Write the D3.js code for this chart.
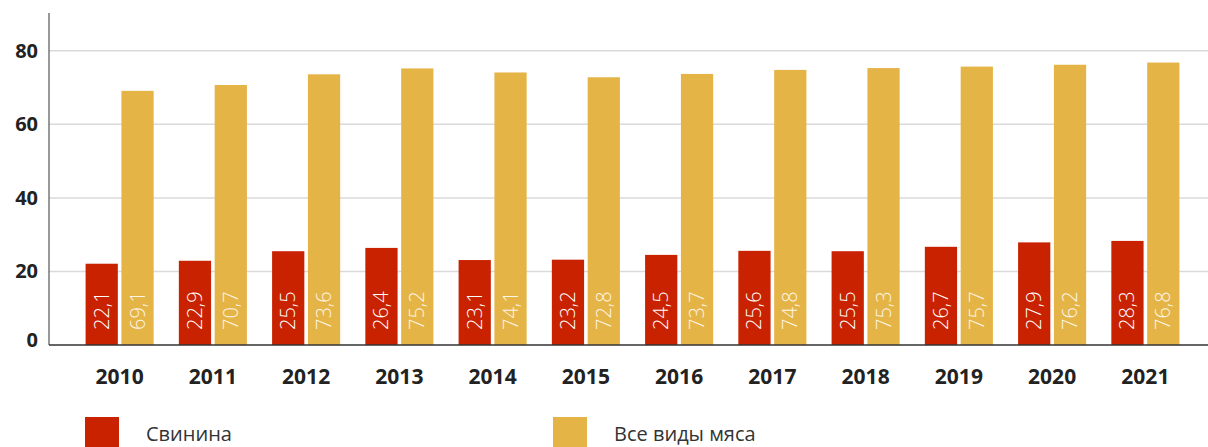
<!DOCTYPE html>
<html>
<head>
  <style>
    body { margin: 0; background: #fff; }
    svg { display: block; }
  </style>
</head>
<body>
  <div id="app">
    <svg id="chart" width="1208" height="447"></svg>
  </div>
  <script src="https://d3js.org/d3.v7.min.js"></script>
  <script>
    const years = ['2010', '2011', '2012', '2013', '2014', '2015', '2016', '2017', '2018', '2019', '2020', '2021']
    const pork = [22.1, 22.9, 25.5, 26.4, 23.1, 23.2, 24.5, 25.6, 25.5, 26.7, 27.9, 28.3]
    const allMeat = [69.1, 70.7, 73.6, 75.2, 74.1, 72.8, 73.7, 74.8, 75.3, 75.7, 76.2, 76.8]
    const seriesNames = ['Свинина', 'Все виды мяса']
    const yTicks = [0, 20, 40, 60, 80]

    const colors = ['#c82200', '#e5b447']
    const fmt = d3.formatLocale({ decimal: ',', thousands: ' ', grouping: [3], currency: ['', ''] }).format('.1f')

    const svg = d3.select('#chart')
    const x0 = 49, baseY = 345, topY = 14

    const x = d3.scaleBand().domain(years).range([73, 1192]).paddingInner(0.27).paddingOuter(0.135)
    const xi = d3.scaleBand().domain([0, 1]).range([0, x.bandwidth()]).paddingInner(0.1)
    const y = d3.scaleLinear().domain([0, 90]).range([baseY, topY])

    // gridlines
    svg.append('g').selectAll('line').data(yTicks.filter(d => d > 0)).enter()
      .append('line')
      .attr('x1', x0).attr('x2', 1208)
      .attr('y1', d => y(d)).attr('y2', d => y(d))
      .attr('stroke', '#dadada').attr('stroke-width', 1.5)

    // y labels
    svg.append('g').selectAll('text').data(yTicks).enter()
      .append('text')
      .text(d => d)
      .attr('x', 38)
      .attr('y', d => y(d) - (d === 0 ? 5 : 0))
      .attr('dy', '0.35em')
      .attr('text-anchor', 'end')
      .attr('font-family', 'Open Sans')
      .attr('font-weight', 700)
      .attr('font-size', '20px')
      .attr('fill', '#222')

    const rows = years.map((yr, i) => ({ year: yr, vals: [pork[i], allMeat[i]] }))

    const groups = svg.append('g').selectAll('g').data(rows).enter()
      .append('g')
      .attr('transform', d => `translate(${x(d.year)},0)`)

    groups.selectAll('rect').data(d => d.vals.map((v, k) => ({ v, k }))).enter()
      .append('rect')
      .attr('x', d => xi(d.k))
      .attr('y', d => y(d.v))
      .attr('width', xi.bandwidth())
      .attr('height', d => baseY - y(d.v))
      .attr('fill', d => colors[d.k])

    groups.selectAll('text.val').data(d => d.vals.map((v, k) => ({ v, k }))).enter()
      .append('text')
      .attr('class', 'val')
      .text(d => fmt(d.v))
      .attr('transform', d => `translate(${xi(d.k) + xi.bandwidth() / 2},${baseY - 15}) rotate(-90)`)
      .attr('dy', '0.35em')
      .attr('font-family', 'Open Sans')
      .attr('font-weight', 300)
      .attr('font-size', '20px')
      .attr('fill', d => d.k === 0 ? '#fff' : '#fdf6e6')

    // axes lines
    svg.append('line')
      .attr('x1', x0).attr('x2', x0).attr('y1', 13).attr('y2', baseY)
      .attr('stroke', '#333').attr('stroke-width', 1)
    svg.append('line')
      .attr('x1', x0).attr('x2', 1208).attr('y1', baseY).attr('y2', baseY)
      .attr('stroke', '#333').attr('stroke-width', 1.5)

    // year labels
    svg.append('g').selectAll('text').data(years).enter()
      .append('text')
      .text(d => d)
      .attr('x', d => x(d) + x.bandwidth() / 2)
      .attr('y', 384)
      .attr('text-anchor', 'middle')
      .attr('font-family', 'Open Sans')
      .attr('font-weight', 700)
      .attr('font-size', '21px')
      .attr('fill', '#222')

    // legend
    const legX = [85, 553]
    const leg = svg.append('g').selectAll('g').data(seriesNames).enter()
      .append('g')
      .attr('transform', (d, i) => `translate(${legX[i]},417)`)
    leg.append('rect').attr('width', 34).attr('height', 32).attr('fill', (d, i) => colors[i])
    leg.append('text')
      .text(d => d)
      .attr('x', 61).attr('y', 24)
      .attr('font-family', 'Open Sans')
      .attr('font-size', '20px')
      .attr('fill', '#333')
  </script>
</body>
</html>
